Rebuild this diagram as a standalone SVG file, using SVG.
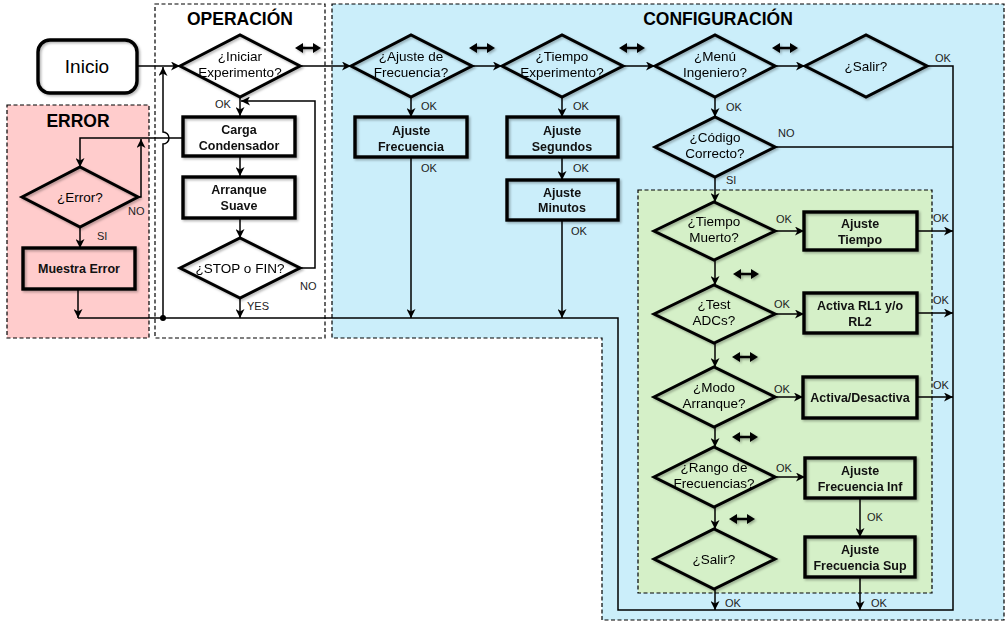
<svg xmlns="http://www.w3.org/2000/svg" xmlns:xlink="http://www.w3.org/1999/xlink" width="1007" height="622" viewBox="0 0 1007 622">
  <style>
    .region { stroke: #000; stroke-width: 1.2; stroke-dasharray: 4 2.5; }
    .box { fill: none; stroke: #000; stroke-width: 3.4; filter: url(#sh); }
    .dia { fill: none; stroke: #000; stroke-width: 3; stroke-linejoin: miter; filter: url(#sh); }
    .conn { fill: none; stroke: #000; stroke-width: 1.5; }
    .arr { marker-end: url(#ah); }
    .title { font-family: "Liberation Sans", Arial, sans-serif; font-weight: bold; font-size: 17.5px; text-anchor: middle; fill: #000; }
    .btxt { font-family: "Liberation Sans", Arial, sans-serif; font-weight: bold; font-size: 12.5px; text-anchor: middle; fill: #111; }
    .dtxt { font-family: "Liberation Sans", Arial, sans-serif; font-size: 13.5px; text-anchor: middle; fill: #000; }
    .lbl { font-family: "Liberation Sans", Arial, sans-serif; font-size: 11px; fill: #222; }
  </style>
  <defs>
    <filter id="sh" x="-10%" y="-10%" width="130%" height="140%">
      <feDropShadow dx="1.5" dy="1.5" stdDeviation="1.2" flood-color="#000" flood-opacity="0.3"/>
    </filter>
    <marker id="ah" markerUnits="userSpaceOnUse" markerWidth="10" markerHeight="9" refX="9" refY="4.5" orient="auto">
      <path d="M0,0 L9,4.5 L0,9 L2.5,4.5 Z" fill="#000"/>
    </marker>
    <!-- two-way navigation glyph -->
    <path id="dbl" d="M-13,0 L-5,-5 L-5,-1.3 L5,-1.3 L5,-5 L13,0 L5,5 L5,1.3 L-5,1.3 L-5,5 Z" fill="#000"/>
  </defs>

  <!-- background areas -->
  <g id="areas">
    <rect class="region" x="7" y="105" width="142" height="233" fill="#ffcccc"/>
    <rect class="region" x="155" y="4" width="170" height="334" fill="#ffffff"/>
    <path class="region" d="M332,4 H1004 V620 H602 V338 H332 Z" fill="#cbeefa"/>
    <rect class="region" x="638" y="190" width="294" height="403" fill="#d5f0c8"/>
    <text class="title" x="78" y="127">ERROR</text>
    <text class="title" x="240" y="25">OPERACIÓN</text>
    <text class="title" x="718" y="25">CONFIGURACIÓN</text>
  </g>

  <!-- connectors -->
  <g id="connectors">
    <path class="conn arr" d="M137,66 H180"/>
    <path class="conn arr" d="M300,66 H351"/>
    <path class="conn arr" d="M472,66 H502"/>
    <path class="conn arr" d="M623,66 H655"/>
    <path class="conn arr" d="M775,66 H805"/>

    <path class="conn arr" d="M240,97 V116"/>
    <path class="conn arr" d="M240,157 V176"/>
    <path class="conn arr" d="M240,218 V238"/>
    <path class="conn arr" d="M300,268 H315 V101 H241"/>
    <path class="conn arr" d="M240,298 V318"/>

    <!-- return path back to the start question -->
    <path class="conn arr" d="M163,318 V144 A6,6 0 0 0 163,132 V67"/>
    <circle cx="163" cy="318" r="3" fill="#000"/>

    <!-- outer loop -->
    <path class="conn" d="M927,66 H953 V610 H618 V318 H78"/>
    <path class="conn" d="M775,147 H953"/>
    <path class="conn arr" d="M78,289 V318"/>

    <!-- error branch -->
    <path class="conn arr" d="M183,138 H80 V167"/>
    <path class="conn arr" d="M137,197 H141 V139"/>
    <path class="conn arr" d="M80,227 V248"/>

    <!-- configuration columns -->
    <path class="conn arr" d="M411,97 V117"/>
    <path class="conn arr" d="M411,157 V318"/>
    <path class="conn arr" d="M562,97 V117"/>
    <path class="conn arr" d="M562,157 V180"/>
    <path class="conn arr" d="M562,220 V318"/>
    <path class="conn arr" d="M715,97 V117"/>
    <path class="conn arr" d="M715,177 V202"/>

    <!-- engineer menu -->
    <path class="conn arr" d="M715,260 V285"/>
    <path class="conn arr" d="M715,343 V367"/>
    <path class="conn arr" d="M715,427 V447"/>
    <path class="conn arr" d="M715,507 V529"/>
    <path class="conn arr" d="M715,589 V610"/>
    <path class="conn arr" d="M775,231 H804"/>
    <path class="conn arr" d="M775,314 H804"/>
    <path class="conn arr" d="M775,397 H803"/>
    <path class="conn arr" d="M775,477 H805"/>
    <path class="conn arr" d="M917,231 H953"/>
    <path class="conn arr" d="M917,313 H953"/>
    <path class="conn arr" d="M917,397 H953"/>
    <path class="conn arr" d="M860,498 V537"/>
    <path class="conn arr" d="M860,577 V610"/>

    <!-- connector labels -->
    <text class="lbl" x="215" y="108">OK</text>
    <text class="lbl" x="300" y="290">NO</text>
    <text class="lbl" x="247" y="310">YES</text>
    <text class="lbl" x="128" y="215">NO</text>
    <text class="lbl" x="97" y="240">SI</text>
    <text class="lbl" x="421" y="110">OK</text>
    <text class="lbl" x="421" y="172">OK</text>
    <text class="lbl" x="573" y="110">OK</text>
    <text class="lbl" x="573" y="172">OK</text>
    <text class="lbl" x="571" y="235">OK</text>
    <text class="lbl" x="726" y="111">OK</text>
    <text class="lbl" x="935" y="62">OK</text>
    <text class="lbl" x="778" y="137">NO</text>
    <text class="lbl" x="726" y="184">SI</text>
    <text class="lbl" x="776" y="223">OK</text>
    <text class="lbl" x="774" y="308">OK</text>
    <text class="lbl" x="774" y="393">OK</text>
    <text class="lbl" x="776" y="472">OK</text>
    <text class="lbl" x="933" y="222">OK</text>
    <text class="lbl" x="933" y="304">OK</text>
    <text class="lbl" x="933" y="389">OK</text>
    <text class="lbl" x="867" y="521">OK</text>
    <text class="lbl" x="725" y="607">OK</text>
    <text class="lbl" x="871" y="607">OK</text>

    <!-- two-way navigation marks -->
    <g filter="url(#sh)">
      <use xlink:href="#dbl" x="308" y="48"/>
      <use xlink:href="#dbl" x="482" y="48"/>
      <use xlink:href="#dbl" x="632" y="48"/>
      <use xlink:href="#dbl" x="785" y="48"/>
      <use xlink:href="#dbl" x="746" y="274"/>
      <use xlink:href="#dbl" x="745" y="357"/>
      <use xlink:href="#dbl" x="745" y="437"/>
      <use xlink:href="#dbl" x="742" y="519"/>
    </g>
  </g>

  <!-- nodes -->
  <g id="inicio">
    <rect class="box" x="38" y="40" width="99" height="53" rx="12" stroke-width="3"/>
    <text x="87" y="73" font-family="Liberation Sans, Arial, sans-serif" font-size="19" text-anchor="middle">Inicio</text>
  </g>

  <g id="iniciar-experimento">
    <polygon class="dia" points="180,66 240,35 300,66 240,97"/>
    <text class="dtxt" x="240" y="61">¿Iniciar</text>
    <text class="dtxt" x="240" y="77">Experimento?</text>
  </g>
  <g id="carga-condensador">
    <rect class="box" x="183" y="117" width="112" height="39"/>
    <text class="btxt" x="239" y="134">Carga</text>
    <text class="btxt" x="239" y="150">Condensador</text>
  </g>
  <g id="arranque-suave">
    <rect class="box" x="183" y="177" width="112" height="41"/>
    <text class="btxt" x="239" y="194">Arranque</text>
    <text class="btxt" x="239" y="210">Suave</text>
  </g>
  <g id="stop-fin">
    <polygon class="dia" points="180,268 240,238 300,268 240,298"/>
    <text class="dtxt" x="240" y="273">¿STOP o FIN?</text>
  </g>

  <g id="error">
    <polygon class="dia" points="22,197 80,167 138,197 80,227"/>
    <text class="dtxt" x="80" y="202">¿Error?</text>
  </g>
  <g id="muestra-error">
    <rect class="box" x="23" y="248" width="112" height="41"/>
    <text class="btxt" x="79" y="273">Muestra Error</text>
  </g>

  <g id="ajuste-frecuencia-q">
    <polygon class="dia" points="351,66 411,35 472,66 411,97"/>
    <text class="dtxt" x="411" y="61">¿Ajuste de</text>
    <text class="dtxt" x="411" y="77">Frecuencia?</text>
  </g>
  <g id="ajuste-frecuencia">
    <rect class="box" x="355" y="117" width="112" height="40"/>
    <text class="btxt" x="411" y="135">Ajuste</text>
    <text class="btxt" x="411" y="151">Frecuencia</text>
  </g>

  <g id="tiempo-experimento">
    <polygon class="dia" points="502,66 562,35 623,66 562,97"/>
    <text class="dtxt" x="562" y="61">¿Tiempo</text>
    <text class="dtxt" x="562" y="77">Experimento?</text>
  </g>
  <g id="ajuste-segundos">
    <rect class="box" x="507" y="117" width="111" height="40"/>
    <text class="btxt" x="562" y="135">Ajuste</text>
    <text class="btxt" x="562" y="151">Segundos</text>
  </g>
  <g id="ajuste-minutos">
    <rect class="box" x="507" y="180" width="111" height="40"/>
    <text class="btxt" x="562" y="197">Ajuste</text>
    <text class="btxt" x="562" y="212">Minutos</text>
  </g>

  <g id="menu-ingeniero">
    <polygon class="dia" points="655,66 715,35 775,66 715,97"/>
    <text class="dtxt" x="715" y="61">¿Menú</text>
    <text class="dtxt" x="715" y="77">Ingeniero?</text>
  </g>
  <g id="salir">
    <polygon class="dia" points="805,66 866,35 927,66 866,97"/>
    <text class="dtxt" x="866" y="71">¿Salir?</text>
  </g>
  <g id="codigo-correcto">
    <polygon class="dia" points="655,147 715,117 775,147 715,177"/>
    <text class="dtxt" x="715" y="142">¿Código</text>
    <text class="dtxt" x="715" y="158">Correcto?</text>
  </g>

  <g id="tiempo-muerto">
    <polygon class="dia" points="654,231 714,202 775,231 714,260"/>
    <text class="dtxt" x="714" y="226">¿Tiempo</text>
    <text class="dtxt" x="714" y="242">Muerto?</text>
  </g>
  <g id="ajuste-tiempo">
    <rect class="box" x="804" y="212" width="113" height="38"/>
    <text class="btxt" x="860" y="228">Ajuste</text>
    <text class="btxt" x="860" y="244">Tiempo</text>
  </g>

  <g id="test-adcs">
    <polygon class="dia" points="654,314 714,285 775,314 714,343"/>
    <text class="dtxt" x="714" y="309">¿Test</text>
    <text class="dtxt" x="714" y="325">ADCs?</text>
  </g>
  <g id="activa-rl">
    <rect class="box" x="804" y="293" width="113" height="40"/>
    <text class="btxt" x="860" y="310">Activa RL1 y/o</text>
    <text class="btxt" x="860" y="326">RL2</text>
  </g>

  <g id="modo-arranque">
    <polygon class="dia" points="654,397 714,367 775,397 714,427"/>
    <text class="dtxt" x="714" y="392">¿Modo</text>
    <text class="dtxt" x="714" y="408">Arranque?</text>
  </g>
  <g id="activa-desactiva">
    <rect class="box" x="803" y="377" width="114" height="41"/>
    <text class="btxt" x="860" y="402">Activa/Desactiva</text>
  </g>

  <g id="rango-frecuencias">
    <polygon class="dia" points="654,477 714,447 775,477 714,507"/>
    <text class="dtxt" x="714" y="472">¿Rango de</text>
    <text class="dtxt" x="714" y="488">Frecuencias?</text>
  </g>
  <g id="ajuste-frecuencia-inf">
    <rect class="box" x="805" y="458" width="110" height="40"/>
    <text class="btxt" x="860" y="475">Ajuste</text>
    <text class="btxt" x="860" y="491">Frecuencia Inf</text>
  </g>

  <g id="salir-menu">
    <polygon class="dia" points="654,559 714,529 775,559 714,589"/>
    <text class="dtxt" x="714" y="564">¿Salir?</text>
  </g>
  <g id="ajuste-frecuencia-sup">
    <rect class="box" x="805" y="537" width="110" height="40"/>
    <text class="btxt" x="860" y="554">Ajuste</text>
    <text class="btxt" x="860" y="570">Frecuencia Sup</text>
  </g>
</svg>
